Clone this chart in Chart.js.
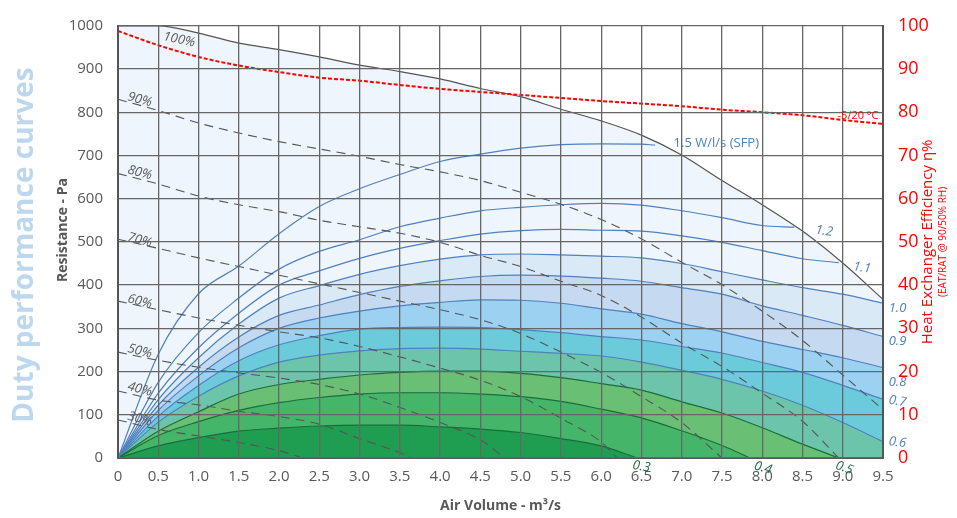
<!DOCTYPE html>
<html>
<head>
<meta charset="utf-8">
<script src="https://cdn.jsdelivr.net/npm/chart.js@4.4.1/dist/chart.umd.min.js"></script>
<style>
    html, body { margin: 0; padding: 0; background: #fff; }
    #wrap { width: 957px; height: 518px; position: relative; }
</style>
</head>
<body>
<div id="wrap"><canvas id="chart"></canvas></div>
<script>
// x grid of the readings (m3/s)
const airVolume = [0, 0.5, 1.0, 1.5, 2.0, 2.5, 3.0, 3.5, 4.0, 4.5, 5.0, 5.5, 6.0, 6.5, 7.0, 7.5, 8.0, 8.5, 9.0, 9.5];

// max fan curve (100%), Pa
const maxCurve = [1000, 1000, 983, 960, 945, 928, 909, 894, 877, 855, 836, 807, 780, 747, 701, 642, 586, 525, 451, 367];

// heat exchanger efficiency -5/20 °C, %
const efficiency = [98.8, 95.5, 92.8, 90.8, 89.3, 88.0, 87.3, 86.3, 85.4, 84.7, 84.0, 83.3, 82.6, 82.0, 81.4, 80.6, 80.0, 79.3, 78.2, 77.3];

// SFP iso-lines (W/l/s), Pa; tails are where a line stops between grid points
const sfp15 = [0, 240, 380, 444, 519, 582, 623, 656, 686, 703, 717, 725, 727, 726];
const sfp15Tail = [[6.67, 724]];
const sfp12 = [0, 175, 290, 370, 437, 478, 505, 535, 555, 572, 580, 586, 589, 585, 572, 556, 538];
const sfp12Tail = [[8.4, 534]];
const sfp11 = [0, 150, 255, 335, 400, 433, 462, 485, 503, 518, 526, 529, 527, 525, 514, 499, 480, 461];
const sfp11Tail = [[8.95, 452]];
const sfp10 = [0, 135, 232, 310, 370, 399, 425, 445, 460, 470, 472, 470, 467, 463, 450, 431, 412, 394, 379, 358];
const sfp09 = [0, 122, 210, 280, 330, 354, 378, 397, 410, 420, 423, 421, 416, 409, 394, 379, 352, 330, 307, 281];
const sfp08 = [0, 110, 190, 255, 300, 324, 340, 352, 360, 366, 365, 358, 345, 333, 311, 292, 270, 251, 232, 209];
const sfp07 = [0, 97, 168, 225, 262, 283, 298, 302, 303, 302, 297, 290, 281, 273, 258, 243, 221, 198, 168, 136];
const sfp06 = [0, 83, 143, 190, 222, 238, 248, 253, 254, 252, 247, 242, 236, 222, 203, 182, 155, 122, 82, 38];
const sfp05 = [0, 62, 107, 148, 170, 182, 192, 198, 201, 201, 196, 186, 172, 157, 130, 104, 70, 32];
const sfp05Tail = [[8.95, 0]];
const sfp04 = [0, 52, 84, 110, 128, 140, 148, 151, 151, 148, 142, 131, 113, 93, 63, 29];
const sfp04Tail = [[7.85, 0]];
const sfp03 = [0, 28, 47, 62, 69, 74, 76, 76, 72, 67, 59, 45, 28];
const sfp03Tail = [[6.45, 0]];

// reduced fan speed curves, Pa
const fan90 = [830, 804, 775, 752, 732, 715, 698, 679, 662, 642, 615, 587, 552, 507, 453, 401, 340, 272, 192, 112];
const fan80 = [658, 634, 606, 586, 570, 550, 535, 520, 499, 469, 443, 409, 376, 326, 266, 212, 150, 85];
const fan80Tail = [[8.95, 0]];
const fan70 = [506, 485, 463, 443, 423, 403, 383, 363, 343, 320, 288, 245, 198, 142, 82, 0];
const fan60 = [363, 343, 324, 307, 292, 278, 258, 234, 208, 180, 142, 92, 37];
const fan60Tail = [[6.2, 0]];
const fan50 = [245, 226, 210, 197, 185, 170, 148, 117, 82, 42];
const fan50Tail = [[4.8, 0]];
const fan40 = [155, 134, 123, 108, 96, 78, 45, 12];
const fan40Tail = [[3.65, 0]];
const fan30 = [88, 66, 51, 36, 17];
const fan30Tail = [[2.3, 0]];

const GREY = '#595959';
const BLUE = '#4f81bd';
const DKGREEN = '#1b6e3b';
const RED = '#ff0000';
const FONT = '"Open Sans", "DejaVu Sans", sans-serif';

// text placed on the curves, in axis units
const curveLabels = [
    { text: '100%', x: 0.76, y: 968, color: GREY, rot: 12, size: 13, italic: true },
    { text: '90%', x: 0.27, y: 829, color: GREY, rot: 15, size: 13, italic: true },
    { text: '80%', x: 0.27, y: 660, color: GREY, rot: 15, size: 13, italic: true },
    { text: '70%', x: 0.27, y: 504, color: GREY, rot: 15, size: 13, italic: true },
    { text: '60%', x: 0.27, y: 362, color: GREY, rot: 15, size: 13, italic: true },
    { text: '50%', x: 0.27, y: 247, color: GREY, rot: 15, size: 13, italic: true },
    { text: '40%', x: 0.27, y: 159, color: GREY, rot: 15, size: 13, italic: true },
    { text: '30%', x: 0.27, y: 90, color: GREY, rot: 15, size: 13, italic: true },
    { text: '1.5 W/l/s (SFP)', x: 7.43, y: 728, color: BLUE, rot: 0, size: 13, italic: false },
    { text: '1.2', x: 8.77, y: 525, color: BLUE, rot: 8, size: 13, italic: true },
    { text: '1.1', x: 9.24, y: 440, color: BLUE, rot: 8, size: 13, italic: true },
    { text: '1.0', x: 9.68, y: 347, color: BLUE, rot: 0, size: 13, italic: true },
    { text: '0.9', x: 9.68, y: 270, color: BLUE, rot: 0, size: 13, italic: true },
    { text: '0.8', x: 9.68, y: 176, color: BLUE, rot: 0, size: 13, italic: true },
    { text: '0.7', x: 9.68, y: 131, color: BLUE, rot: 10, size: 13, italic: true },
    { text: '0.6', x: 9.68, y: 36, color: BLUE, rot: 8, size: 13, italic: true },
    { text: '0.3', x: 6.5, y: -20, color: DKGREEN, rot: 10, size: 13, italic: true },
    { text: '0.4', x: 8.01, y: -23, color: DKGREEN, rot: 15, size: 13, italic: true },
    { text: '0.5', x: 9.02, y: -23, color: DKGREEN, rot: 20, size: 13, italic: true },
    { text: '-5/20 °C', x: 9.19, y: 792, color: RED, rot: 0, size: 11, italic: false },
];

const toPoints = (values, tail = []) => values
    .map((y, i) => ({ x: airVolume[i], y }))
    .concat(tail.map(([x, y]) => ({ x, y })));

const curve = (label, values, tail, opts) => ({
    label,
    data: toPoints(values, tail),
    pointRadius: 0,
    cubicInterpolationMode: 'monotone',
    fill: false,
    borderWidth: 1.2,
    ...opts,
});

// filled bands: drawn back to front (higher order first)
const band = (label, values, tail, line, fillColor, order) =>
    curve(label, values, tail, { borderColor: line, backgroundColor: fillColor, fill: 'origin', order });

const datasets = [
    band('max', maxCurve, [], '#555555', '#eef5fc', 30),
    band('1.0', sfp10, [], BLUE, '#d9e9f6', 29),
    band('0.9', sfp09, [], BLUE, '#c5d9f1', 28),
    band('0.8', sfp08, [], BLUE, '#9dd1f2', 27),
    band('0.7', sfp07, [], BLUE, '#6ccbdb', 26),
    band('0.6', sfp06, [], BLUE, '#6cc4ab', 25),
    band('0.5', sfp05, sfp05Tail, DKGREEN, '#69bf74', 24),
    band('0.4', sfp04, sfp04Tail, DKGREEN, '#45b56a', 23),
    band('0.3', sfp03, sfp03Tail, DKGREEN, '#1f9e51', 22),
    curve('1.1', sfp11, sfp11Tail, { borderColor: BLUE, order: 10 }),
    curve('1.2', sfp12, sfp12Tail, { borderColor: BLUE, order: 10 }),
    curve('1.5', sfp15, sfp15Tail, { borderColor: BLUE, order: 10 }),
    ...[
        ['90%', fan90, []], ['80%', fan80, fan80Tail], ['70%', fan70, []], ['60%', fan60, fan60Tail],
        ['50%', fan50, fan50Tail], ['40%', fan40, fan40Tail], ['30%', fan30, fan30Tail],
    ].map(([l, v, t]) => curve(l, v, t, { borderColor: '#555555', borderDash: [9, 6], borderWidth: 1.1, order: 5 })),
    {
        label: 'efficiency',
        data: efficiency.map((y, i) => ({ x: airVolume[i], y })),
        yAxisID: 'y2',
        borderColor: RED,
        borderWidth: 2,
        borderDash: [4, 2],
        pointRadius: 0,
        cubicInterpolationMode: 'monotone',
        fill: false,
        order: 1,
    },
];

const textPlugin = {
    id: 'texts',
    afterDraw(chart) {
        const { ctx, scales: { x, y }, chartArea } = chart;
        ctx.save();
        ctx.textAlign = 'center';
        ctx.textBaseline = 'middle';
        curveLabels.forEach((l) => {
            ctx.save();
            ctx.translate(x.getPixelForValue(l.x), y.getPixelForValue(l.y));
            ctx.rotate(l.rot * Math.PI / 180);
            ctx.font = `${l.italic ? 'italic ' : ''}${l.size}px ${FONT}`;
            ctx.fillStyle = l.color;
            ctx.fillText(l.text, 0, 0);
            ctx.restore();
        });

        const midY = (chartArea.top + chartArea.bottom) / 2;
        const vText = (text, cx, cy, font, color) => {
            ctx.save();
            ctx.translate(cx, cy);
            ctx.rotate(-Math.PI / 2);
            ctx.font = font;
            ctx.fillStyle = color;
            ctx.fillText(text, 0, 0);
            ctx.restore();
        };
        vText('Duty performance curves', 25, 245, `bold 28px ${FONT}`, '#bdd7ee');
        vText('Resistance - Pa', 63, 230, `bold 14px ${FONT}`, GREY);
        vText('Heat Exchanger Efficiency η%', 928, midY, `15px ${FONT}`, RED);
        vText('(EAT/RAT @ 90/50% RH)', 943, midY, `10px ${FONT}`, RED);

        ctx.font = `bold 14px ${FONT}`;
        ctx.fillStyle = GREY;
        ctx.fillText('Air Volume - m³/s', (chartArea.left + chartArea.right) / 2, 506);
        ctx.restore();
    },
};

const gridLine = { color: '#666666', lineWidth: 1.3, drawTicks: false, z: 1 };

new Chart(document.getElementById('chart'), {
    type: 'line',
    data: { datasets },
    options: {
        responsive: true,
        maintainAspectRatio: false,
        animation: false,
        layout: { padding: { top: 15, left: 0, right: 0, bottom: 0 } },
        plugins: {
            legend: { display: false },
            tooltip: { enabled: false },
        },
        scales: {
            x: {
                type: 'linear',
                min: 0,
                max: 9.5,
                grid: gridLine,
                border: { display: true, color: '#555555', width: 2, z: 1 },
                ticks: {
                    stepSize: 0.5,
                    padding: 10,
                    color: GREY,
                    font: { family: FONT, size: 15 },
                    callback: (v) => (v === 0 ? '0' : v.toFixed(1)),
                },
                afterFit: (s) => { s.height = 60; },
            },
            y: {
                min: 0,
                max: 1000,
                grid: gridLine,
                border: { display: true, color: '#555555', width: 2, z: 1 },
                ticks: {
                    stepSize: 100,
                    padding: 15,
                    color: GREY,
                    font: { family: FONT, size: 15 },
                    callback: (v) => String(v),
                },
                afterFit: (s) => { s.width = 118; },
            },
            y2: {
                position: 'right',
                min: 0,
                max: 100,
                grid: { display: false, drawTicks: false },
                border: { display: true, color: '#555555', width: 2, z: 1 },
                ticks: {
                    stepSize: 10,
                    padding: 15,
                    color: RED,
                    font: { family: FONT, size: 18 },
                    callback: (v) => String(v),
                },
                afterFit: (s) => { s.width = 74; },
            },
        },
    },
    plugins: [textPlugin],
});
</script>
</body>
</html>
